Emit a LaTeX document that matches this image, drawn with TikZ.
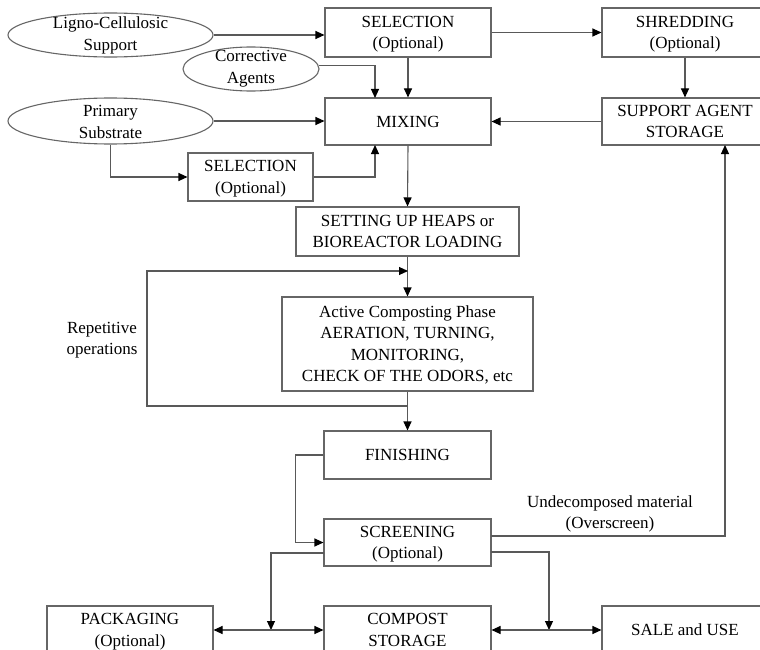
\documentclass[tikz,border=0pt]{standalone}
\usepackage{fontspec}
\setmainfont{Liberation Serif}
\usetikzlibrary{arrows.meta,shapes.geometric,calc}
\newcommand{\ls}{\rule[-5.1pt]{0pt}{21.5pt}}
\begin{document}
\begin{tikzpicture}[x=1pt,y=-1pt,
  txt/.style={font=\fontsize{17}{21.5}\selectfont, align=center, inner sep=0pt, text=black},
  box/.style={txt, draw=black!60, line width=1.1pt, fill=white},
  ell/.style={ellipse, draw=black!60, line width=1.1pt, inner sep=0pt, fill=white},
  arr/.style={draw=black!65, line width=1.1pt, -{Triangle[length=9pt,width=8pt,color=black]}},
  dbl/.style={draw=black!65, line width=1.1pt, {Triangle[length=9pt,width=8pt,color=black]}-{Triangle[length=9pt,width=8pt,color=black]}}]
\useasboundingbox (0,0) rectangle (760,650);
% ellipses
\node[ell, minimum width=205pt, minimum height=44pt] (ligno) at (110.5,35) {};
\node[txt] (lignoT) at (110.5,35.5) {Ligno-Cellulosic\\Support};
\node[ell, minimum width=136pt, minimum height=44pt] (corr) at (251,69) {};
\node[txt] (corrT) at (251,68.5) {Corrective\\Agents};
\node[ell, minimum width=205pt, minimum height=46pt] (prim) at (110.5,121) {};
\node[txt] (primT) at (110.5,122) {Primary\\Substrate};
% boxes
\node[box, minimum width=166pt, minimum height=49pt] (selA) at (408,32.5) {\ls SELECTION\\\ls(Optional)};
\node[box, minimum width=166pt, minimum height=49pt] (shred) at (685,32.5) {\ls SHREDDING\\\ls(Optional)};
\node[box, minimum width=166pt, minimum height=47pt] (mix) at (408,121.5) {\ls MIXING};
\node[box, minimum width=166pt, minimum height=47pt] (sas) at (685,121.5) {\ls SUPPORT AGENT\\\ls STORAGE};
\node[box, minimum width=125pt, minimum height=48pt] (selB) at (250.5,177) {\ls SELECTION\\\ls(Optional)};
\node[box, minimum width=223pt, minimum height=49pt] (heaps) at (407.5,231.5) {\ls SETTING UP HEAPS or\\\ls BIOREACTOR LOADING};
\node[box, minimum width=251pt, minimum height=94pt] (active) at (407.5,344) {\ls Active Composting Phase\\\ls AERATION, TURNING,\\\ls MONITORING,\\\ls CHECK OF THE ODORS, etc};
\node[box, minimum width=167pt, minimum height=48pt] (finish) at (407.5,455) {\ls FINISHING};
\node[box, minimum width=167pt, minimum height=47pt] (screen) at (407.5,542.5) {\ls SCREENING\\\ls(Optional)};
\node[box, minimum width=167pt, minimum height=48pt] (compost) at (407.5,630) {\ls COMPOST\\\ls STORAGE};
\node[box, minimum width=166pt, minimum height=48pt] (pack) at (130,630) {\ls PACKAGING\\\ls(Optional)};
\node[box, minimum width=166pt, minimum height=48pt] (sale) at (685,630) {\ls SALE and USE};
% labels
\node[txt] (rep) at (102,340) {Repetitive\\operations};
\node[txt] (undec) at (610,514) {Undecomposed material\\(Overscreen)};
% coordinates
\coordinate (cA) at (375,98);
\coordinate (cB) at (375,145);
\coordinate (lpIn) at (408,271);
\coordinate (lpOut) at (408,406);
\coordinate (lpTL) at (147,271);
\coordinate (lpBL) at (147,406);
\coordinate (sR1) at (491,536);
\coordinate (cS) at (725,145);
\coordinate (sL) at (324,553);
\coordinate (jL) at (271,630);
\coordinate (sR2) at (491,552);
\coordinate (jR) at (549,630);
% connectors
\draw[arr] (ligno.east) -- (ligno.east -| selA.west);
\draw[arr] (selA.east) -- (shred.west);
\draw[arr] (selA.south) -- (mix.north);
\draw[arr] (corr.3) -| (cA);
\draw[arr] (shred.south) -- (sas.north);
\draw[arr] (sas.west) -- (mix.east);
\draw[arr] (prim.east) -- (prim.east -| mix.west);
\draw[arr] (prim.south) |- (selB.west);
\draw[arr] (selB.east) -| (cB);
\draw[arr] (mix.south) -- (heaps.north);
\draw[arr] (heaps.south) -- (active.north);
\draw[arr] (lpOut) -- (lpBL) -- (lpTL) -- (lpIn);
\draw[arr] (active.south) -- (finish.north);
\draw[arr] (finish.west) -- ++(-28,0) |- (screen.west);
\draw[arr] (sR1) -| (cS);
\draw[arr] (sL) -| (jL);
\draw[arr] (sR2) -| (jR);
\draw[dbl] (pack.east) -- (compost.west);
\draw[dbl] (compost.east) -- (sale.west);
\end{tikzpicture}
\end{document}
